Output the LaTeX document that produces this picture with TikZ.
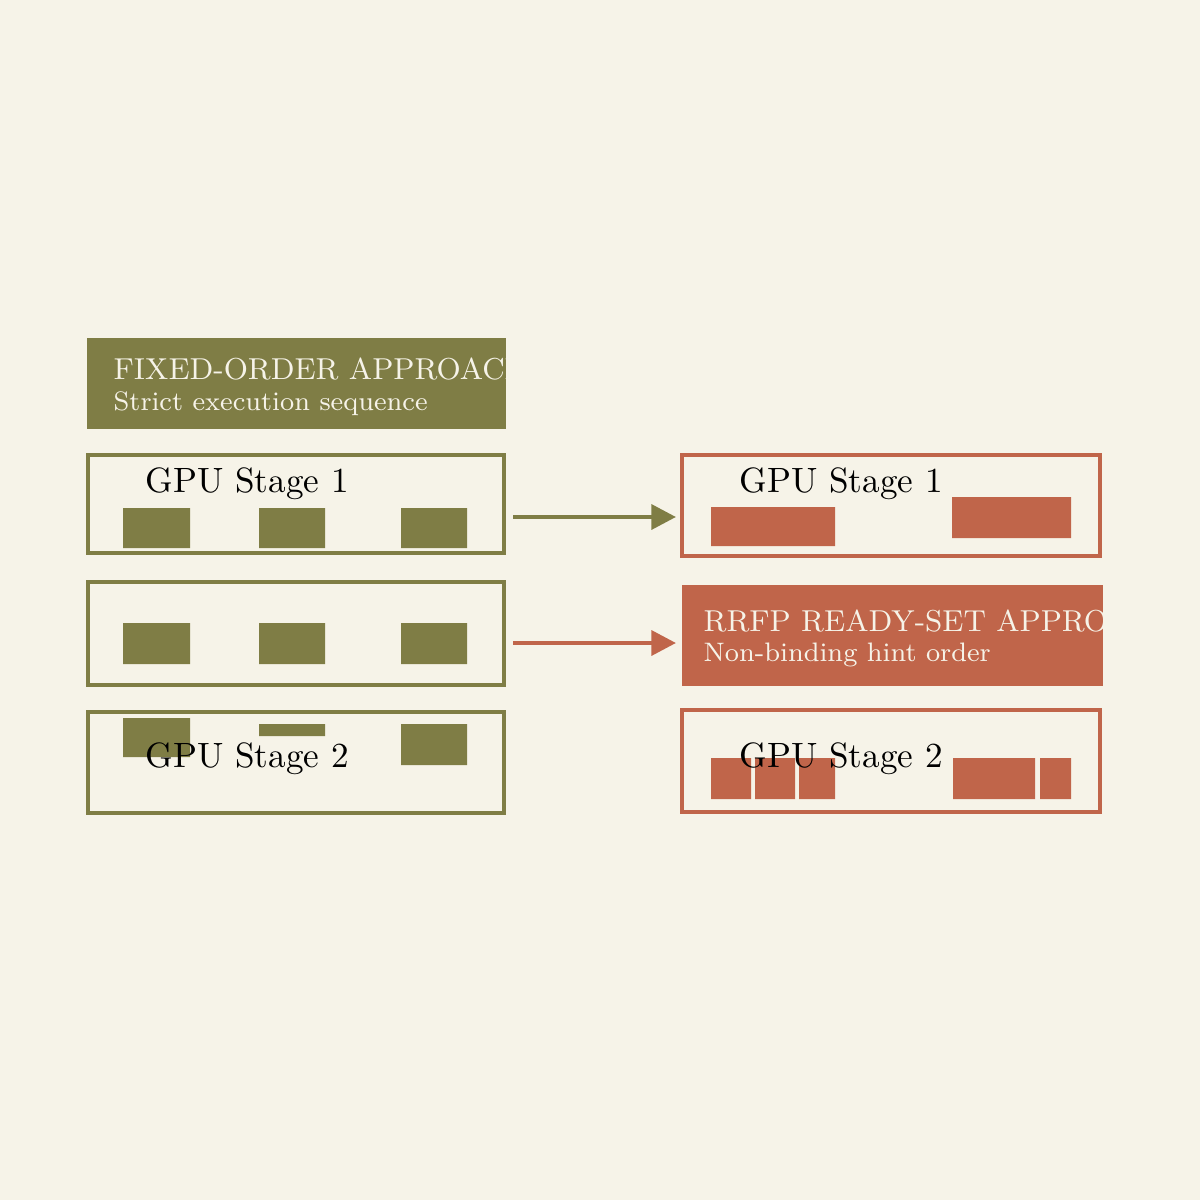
\documentclass[tikz,border=0pt]{standalone}
\usepackage{tikz}
\usetikzlibrary{arrows.meta,calc}
\definecolor{paper}{HTML}{F6F3E8}
\definecolor{olive}{HTML}{7F7D45}
\definecolor{brick}{HTML}{C0654A}
\begin{document}
\begin{tikzpicture}[x=0.01cm,y=-0.01cm,
  frame/.style={draw=#1,line width=1.2pt},
  blk/.style={fill=#1},
  head/.style={fill=#1},
  lab/.style={anchor=west,inner sep=0pt,font=\fontsize{10}{12}\selectfont},
  htitle/.style={anchor=west,inner sep=0pt,text=paper,font=\fontsize{8.6}{10}\selectfont},
  hsub/.style={anchor=west,inner sep=0pt,text=paper,font=\fontsize{7.6}{9}\selectfont},
  flow/.style={-{Triangle[length=7pt,width=7pt]},line width=1.3pt,draw=#1}]
\fill[paper] (0,0) rectangle (1200,1200);
%fixed order
\begin{scope}
\fill[head=olive] (87,338) rectangle (506,429);
\node[htitle] (ftitle) at (113,369) {FIXED-ORDER APPROACH};
\node[hsub] (fsub) at (113,404) {Strict execution sequence};
\draw[frame=olive] (88,455) rectangle (504,553);
\node[lab] (fone) at (145,484) {GPU Stage 1};
\fill[blk=olive] (123,508) rectangle (190,548)
	(259,508) rectangle (325,548)
	(401,508) rectangle (467,548);
\draw[frame=olive] (88,582) rectangle (504,685);
\fill[blk=olive] (123,623) rectangle (190,664)
	(259,623) rectangle (325,664)
	(401,623) rectangle (467,664);
\draw[frame=olive] (88,712) rectangle (504,813);
\fill[blk=olive] (123,718) rectangle (190,757)
	(259,724) rectangle (325,736)
	(401,724) rectangle (467,765);
\node[lab] (ftwo) at (145,759) {GPU Stage 2};
\end{scope}
%arrows
\coordinate (a1) at (513,517);
\coordinate (b1) at (676,517);
\coordinate (a2) at (513,643);
\coordinate (b2) at (676,643);
\draw[flow=olive] (a1) -- (b1);
\draw[flow=brick] (a2) -- (b2);
%ready set
\begin{scope}
\draw[frame=brick] (682,455) rectangle (1100,556);
\node[lab] (rone) at (739,484) {GPU Stage 1};
\fill[blk=brick] (711,507) rectangle (835,546)
	(952,497) rectangle (1071,538);
\fill[head=brick] (682,585) rectangle (1103,686);
\node[htitle] (rtitle) at (703,621) {RRFP READY-SET APPROACH};
\node[hsub] (rsub) at (703,655) {Non-binding hint order};
\draw[frame=brick] (682,710) rectangle (1100,812);
\fill[blk=brick] (711,758) rectangle (751,799)
	(755,758) rectangle (795,799)
	(799,758) rectangle (835,799)
	(953,758) rectangle (1035,799)
	(1040,758) rectangle (1071,799);
\node[lab] (rtwo) at (739,759) {GPU Stage 2};
\end{scope}
\end{tikzpicture}
\end{document}
